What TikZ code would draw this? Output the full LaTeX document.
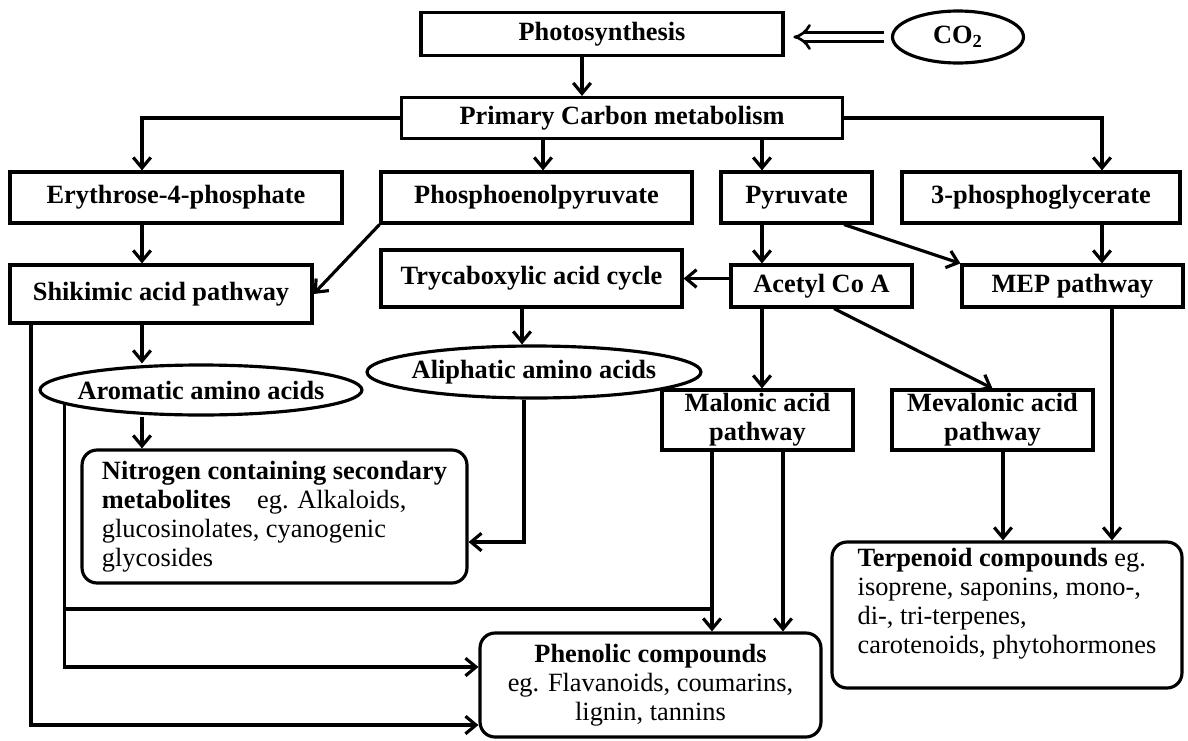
\documentclass[tikz,border=0pt]{standalone}
\usepackage{fontspec}
\setmainfont{Liberation Serif}
\usetikzlibrary{arrows,arrows.meta,shapes,positioning}

\begin{document}
\begin{tikzpicture}[x=0.02cm,y=-0.02cm,line width=1.8pt,>={Straight Barb[length=6pt,width=10pt]},
    font=\fontsize{15}{16.5}\selectfont]
  \tikzstyle{compound}=[rectangle,draw=black,line width=1.8pt,inner sep=0pt,align=center,
                        font=\fontsize{15}{16.5}\selectfont\bfseries]
  \tikzstyle{pool}=[ellipse,draw=black,line width=1.8pt,inner sep=0pt,
                    font=\fontsize{15}{16.5}\selectfont\bfseries]
  \tikzstyle{product}=[rectangle,rounded corners=3mm,draw=black,line width=1.8pt,inner sep=0pt,
                       font=\fontsize{15}{16.5}\selectfont]

  \useasboundingbox (0,0) rectangle (1188,741);

  % Top row.
  \node [compound,minimum width=7.24cm,minimum height=0.86cm] (photo) at (602,34) {Photosynthesis};
  \node [pool,minimum width=2.62cm,minimum height=1.04cm] (co2) at (958,37) {CO\textsubscript{2}};
  \node [compound,minimum width=8.82cm,minimum height=0.82cm] (primary) at (622,118) {Primary Carbon metabolism};

  % Precursors.
  \node [compound,minimum width=6.64cm,minimum height=1.02cm] (ery) at (176,197.5) {Erythrose-4-phosphate};
  \node [compound,minimum width=6.22cm,minimum height=1.02cm] (pep) at (536.5,197.5) {Phosphoenolpyruvate};
  \node [compound,minimum width=3.02cm,minimum height=1.02cm] (pyr) at (796.5,197.5) {Pyruvate};
  \node [compound,minimum width=5.56cm,minimum height=1.02cm] (pga) at (1041,197.5) {3-phosphoglycerate};

  % Pathways.
  \node [compound,minimum width=6.04cm,minimum height=1.16cm] (shik) at (161,294) {Shikimic acid pathway};
  \node [compound,minimum width=6.02cm,minimum height=1.14cm] (tca) at (531.5,278.5) {Trycaboxylic acid cycle};
  \node [compound,minimum width=3.62cm,minimum height=0.84cm] (acoa) at (821.5,286) {Acetyl Co A};
  \node [compound,minimum width=4.42cm,minimum height=0.84cm] (mep) at (1072.5,286) {MEP pathway};

  % Amino acids.
  \node [pool,minimum width=6.44cm,minimum height=1.0cm] (arom) at (201,390) {\makebox[0pt]{Aromatic amino acids}};
  \node [pool,minimum width=6.68cm,minimum height=1.04cm] (aliph) at (534,372) {\makebox[0pt]{Aliphatic amino acids}};
  \node [compound,minimum width=3.82cm,minimum height=1.2cm] (mal) at (757.5,420) {Malonic acid\\pathway};
  \node [compound,minimum width=4.02cm,minimum height=1.2cm] (mev) at (992.5,420) {Mevalonic acid\\pathway};

  % Products.
  \node [product,minimum width=7.7cm,minimum height=2.66cm,align=left] (nitro) at (274.5,516.5)
    {\textbf{Nitrogen containing secondary}\\\textbf{metabolites}\quad eg. Alkaloids,\\glucosinolates, cyanogenic\\glycosides};
  \node [product,minimum width=7.0cm,minimum height=2.92cm,align=left] (terp) at (1007,615)
    {\textbf{Terpenoid compounds} eg.\\isoprene, saponins, mono-,\\di-, tri-terpenes,\\carotenoids, phytohormones\\\mbox{}};
  \node [product,minimum width=6.82cm,minimum height=2.08cm,align=center] (phen) at (650.5,685)
    {\textbf{Phenolic compounds}\\eg. Flavanoids, coumarins,\\lignin, tannins};

  \coordinate (join) at (712,609);

  % Carbon flow.
  \draw[double,double distance=3.5pt,line width=1.5pt,-{Implies},shorten <=4pt,shorten >=5pt] (co2.west) -- (co2.west -| photo.east);
  \draw[->] (photo.south -| 582,0) -- (primary.north -| 582,0);
  \draw[->] (primary.west) -| (ery.north -| 142,0);
  \draw[->] (primary.south -| 543,0) -- (pep.north -| 543,0);
  \draw[->] (primary.south -| 762,0) -- (pyr.north -| 762,0);
  \draw[->] (primary.east) -| (pga.north -| 1102,0);

  \draw[->] (ery.south -| 142,0) -- (shik.north -| 142,0);
  \draw[->] (pep.south west) -- (shik.east);
  \draw[->] (pyr.south -| 762,0) -- (acoa.north -| 762,0);
  \draw[->] (pyr.south -| 844,0) -- (mep.north west);
  \draw[->] (pga.south -| 1102,0) -- (mep.north -| 1102,0);
  \draw[->] (acoa.west |- tca.east) -- (tca.east);

  \draw[->] (shik.south -| 142,0) -- (arom.north -| 142,0);
  \draw[->] (tca.south -| 522,0) -- (aliph.north -| 522,0);
  \draw[->] (acoa.south -| 762,0) -- (mal.north -| 762,0);
  \draw[->] (acoa.south -| 834,0) -- (mev.north);

  % Into the products.
  \draw[->] (arom.south -| 142,0) -- (nitro.north -| 142,0);
  \draw[->] (aliph.south -| 524,0) |- (nitro.east |- 0,542);
  \draw[->] (mev.south -| 1003,0) -- (terp.north -| 1003,0);
  \draw[->] (mep.south -| 1112,0) -- (terp.north -| 1112,0);
  \draw[->] (mal.south -| 712,0) -- (phen.north -| 712,0);
  \draw[->] (mal.south -| 783,0) -- (phen.north -| 783,0);
  \draw (arom.186) |- (join);
  \draw[->] (arom.186) |- (phen.west |- 0,667);
  \draw[->] (shik.south -| 31,0) |- (phen.west |- 0,725);
\end{tikzpicture}
\end{document}
